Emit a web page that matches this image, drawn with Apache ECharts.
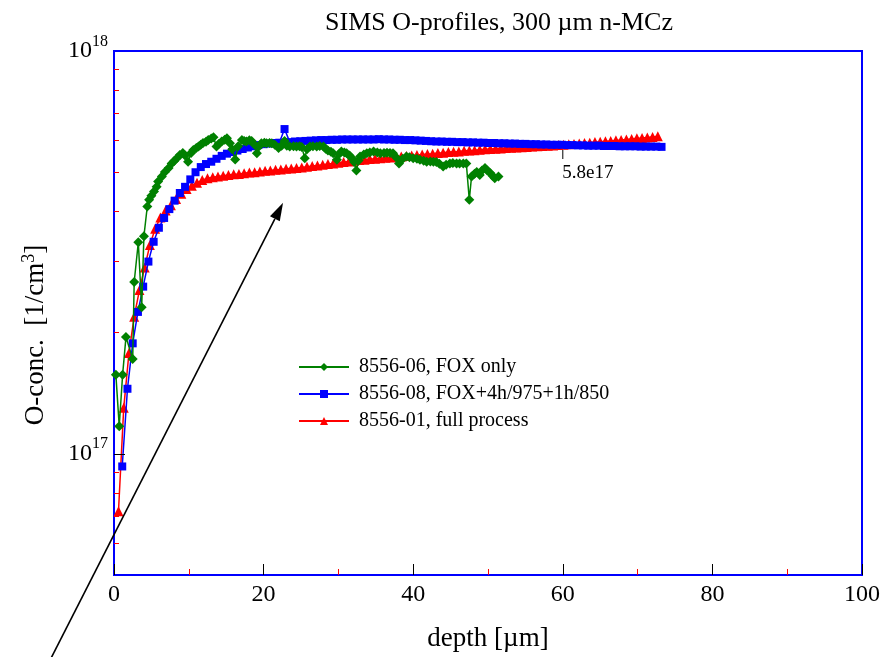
<!DOCTYPE html>
<html><head><meta charset="utf-8">
<script src="https://cdn.jsdelivr.net/npm/echarts@6/dist/echarts.min.js"></script>
<style>html,body{margin:0;padding:0;background:#fff}#c{width:894px;height:657px}</style>
</head><body><div id="c"></div>
<script>
const UNIT = 1e17;
const seriesNames = ['8556-06, FOX only', '8556-08, FOX+4h/975+1h/850', '8556-01, full process'];
const xTicks = [0, 20, 40, 60, 80, 100];
const yLabelTicks = [1e17, 0.9999999e18];
const yMinorTicks = [6e16, 7e16, 8e16, 9e16, 2e17, 3e17, 4e17, 5e17, 6e17, 7e17, 8e17, 9e17];

const greenDepth = [0.25,0.7,1.15,1.6,2.5,2.7,3.25,3.7,4.0,4.45,4.7,5.0,5.35,5.7,5.9,6.4,6.8,7.3,7.7,8.05,8.4,8.8,9.2,9.5,9.9,10.3,10.6,11.0,11.3,11.6,11.9,12.3,12.6,13.0,13.3,13.7,14.0,14.4,14.8,15.1,15.5,15.8,16.2,16.6,17.1,17.4,17.7,18.1,18.4,18.8,19.1,19.4,19.7,20.1,20.4,20.8,21.1,21.5,22.0,22.4,22.8,23.1,23.5,24.0,24.4,24.8,25.1,25.5,25.8,26.2,26.6,27.1,27.5,28.0,28.3,28.6,29.0,29.3,29.8,30.1,30.4,30.8,31.1,31.5,31.8,32.1,32.4,32.7,32.9,33.4,33.8,34.2,34.7,35.2,35.6,36.1,36.5,36.9,37.3,37.7,38.1,38.6,39.1,39.5,40.0,40.5,40.9,41.4,41.8,42.3,42.7,43.1,43.5,44.0,44.4,44.9,45.3,45.8,46.2,46.7,47.1,47.5,47.8,48.2,48.5,48.9,49.2,49.6,49.9,50.3,50.6,50.9,51.4];
const greenConc = [1.57,1.17,1.57,1.95,1.72,2.67,3.35,2.31,3.47,4.11,4.27,4.37,4.48,4.60,4.74,4.88,5.01,5.12,5.26,5.33,5.42,5.52,5.58,5.50,5.31,5.58,5.68,5.74,5.79,5.85,5.91,5.95,6.01,6.06,6.11,5.79,5.88,5.96,6.02,6.07,5.90,5.70,5.38,5.80,6.01,5.98,5.96,6.00,5.98,5.85,5.57,5.80,5.90,5.92,5.90,5.91,5.90,5.85,5.74,5.82,5.98,5.82,5.79,5.80,5.79,5.80,5.78,5.42,5.70,5.79,5.80,5.79,5.81,5.79,5.72,5.66,5.62,5.57,5.37,5.55,5.63,5.60,5.57,5.50,5.42,5.30,5.05,5.35,5.47,5.53,5.57,5.60,5.63,5.60,5.57,5.58,5.59,5.58,5.57,5.45,5.26,5.40,5.47,5.45,5.42,5.40,5.37,5.34,5.31,5.32,5.31,5.30,5.25,5.17,5.22,5.26,5.27,5.26,5.26,5.26,5.26,4.27,4.88,4.96,5.01,4.92,5.05,5.12,5.05,4.98,4.90,4.83,4.88];

const blueDepth = [1.1,1.8,2.5,3.2,3.9,4.6,5.3,6.0,6.7,7.4,8.1,8.8,9.5,10.2,10.9,11.6,12.3,13.0,13.7,14.4,15.1,15.8,16.5,17.2,17.9,18.6,19.3,20.0,20.7,21.4,22.1,22.8,23.5,24.2,24.9,25.6,26.3,27.0,27.7,28.4,29.1,29.8,30.5,31.2,31.9,32.6,33.3,34.0,34.7,35.4,36.1,36.8,37.5,38.2,38.9,39.6,40.3,41.0,41.7,42.4,43.1,43.8,44.5,45.2,45.9,46.6,47.3,48.0,48.7,49.4,50.1,50.8,51.5,52.2,52.9,53.6,54.3,55.0,55.7,56.4,57.1,57.8,58.5,59.2,59.9,60.6,61.3,62.0,62.7,63.4,64.1,64.8,65.5,66.2,66.9,67.6,68.3,69.0,69.7,70.4,71.1,71.8,72.5,73.2];
const blueConc = [0.93,1.45,1.88,2.25,2.60,3.00,3.36,3.64,3.85,4.05,4.25,4.44,4.60,4.80,5.00,5.15,5.24,5.31,5.40,5.49,5.56,5.61,5.66,5.71,5.76,5.80,5.84,5.87,5.89,5.91,5.92,6.40,5.94,5.96,5.97,5.98,5.99,6.00,6.01,6.01,6.02,6.02,6.03,6.03,6.03,6.03,6.03,6.03,6.03,6.04,6.03,6.03,6.02,6.02,6.01,6.01,6.00,5.99,5.98,5.97,5.96,5.96,5.95,5.95,5.94,5.94,5.93,5.93,5.92,5.92,5.91,5.91,5.90,5.90,5.89,5.89,5.88,5.88,5.87,5.87,5.86,5.86,5.85,5.85,5.85,5.84,5.84,5.83,5.83,5.82,5.82,5.82,5.81,5.81,5.81,5.80,5.80,5.80,5.80,5.79,5.79,5.79,5.79,5.78];

const redDepth = [0.6,1.3,2.0,2.7,3.4,4.1,4.8,5.5,6.2,6.9,7.6,8.3,9.0,9.7,10.4,11.1,11.8,12.5,13.2,13.9,14.6,15.3,16.0,16.7,17.4,18.1,18.8,19.5,20.2,20.9,21.6,22.3,23.0,23.7,24.4,25.1,25.8,26.5,27.2,27.9,28.6,29.3,30.0,30.7,31.4,32.1,32.8,33.5,34.2,34.9,35.6,36.3,37.0,37.7,38.4,39.1,39.8,40.5,41.2,41.9,42.6,43.3,44.0,44.7,45.4,46.1,46.8,47.5,48.2,48.9,49.6,50.3,51.0,51.7,52.4,53.1,53.8,54.5,55.2,55.9,56.6,57.3,58.0,58.7,59.4,60.1,60.8,61.5,62.2,62.9,63.6,64.3,65.0,65.7,66.4,67.1,67.8,68.5,69.2,69.9,70.6,71.3,72.0,72.7];
const redConc = [0.72,1.30,1.78,2.19,2.55,2.90,3.30,3.62,3.86,4.02,4.14,4.29,4.42,4.54,4.63,4.71,4.78,4.83,4.86,4.88,4.90,4.92,4.94,4.95,4.97,4.99,5.00,5.02,5.04,5.05,5.07,5.08,5.10,5.11,5.12,5.14,5.16,5.18,5.20,5.22,5.24,5.26,5.28,5.30,5.32,5.34,5.36,5.37,5.39,5.40,5.42,5.43,5.44,5.46,5.47,5.49,5.50,5.52,5.53,5.55,5.56,5.58,5.59,5.61,5.62,5.63,5.65,5.66,5.67,5.69,5.70,5.71,5.72,5.73,5.74,5.75,5.76,5.77,5.78,5.79,5.80,5.81,5.82,5.83,5.84,5.85,5.87,5.88,5.89,5.91,5.92,5.94,5.95,5.97,5.98,6.00,6.01,6.03,6.05,6.07,6.08,6.10,6.12,6.14];

// annotation: small tick with label "5.8e17" at depth 60
const annotDepth = 60;
const annotConc = 5.53;
const annotText = '5.8e17';
// arrow annotation (data coordinates of tail and tip)
const arrowTail = [-8.6, 0.306];
const arrowTip = [22.6, 4.2];

const FONT = 'Liberation Serif';
function pairs(d, v) { const n = Math.min(d.length, v.length); const out = []; for (let i = 0; i < n; i++) out.push([d[i], v[i] * UNIT]); return out; }

const chart = echarts.init(document.getElementById('c'), null, { renderer: 'canvas' });
const option = {
  animation: false,
  backgroundColor: '#fff',
  title: {
    text: 'SIMS O-profiles, 300 µm n-MCz', left: 494, top: 5, textAlign: 'center',
    textStyle: { fontFamily: FONT, fontSize: 26, fontWeight: 'normal', color: '#000' }
  },
  legend: {
    data: seriesNames, orient: 'vertical', left: 293, top: 352,
    itemWidth: 50, itemHeight: 10, itemGap: 7,
    textStyle: { fontFamily: FONT, fontSize: 20, color: '#000', lineHeight: 20, padding: [0, 0, 0, 5] }
  },
  grid: { left: 114, right: 32, top: 51, bottom: 82, show: true, borderColor: '#0000ff', borderWidth: 2, backgroundColor: 'transparent' },
  xAxis: [
    {
      type: 'value', min: xTicks[0], max: xTicks[xTicks.length - 1], interval: 20, z: 5,
      axisLine: { show: false }, splitLine: { show: false },
      axisTick: { inside: true, length: 11, lineStyle: { color: '#000', width: 1 } },
      axisLabel: { fontFamily: FONT, fontSize: 24, color: '#000', margin: 8 },
      name: 'depth [µm]', nameLocation: 'middle', nameGap: 50,
      nameTextStyle: { fontFamily: FONT, fontSize: 27, color: '#000' }
    },
    {
      type: 'value', min: 0, max: 100, interval: 10, position: 'bottom', z: 3,
      axisLine: { show: false }, splitLine: { show: false },
      axisTick: { inside: true, length: 6, lineStyle: { color: '#ff0000', width: 1 } },
      axisLabel: { show: false }
    }
  ],
  yAxis: [
    {
      type: 'log', logBase: 10, min: 5e16, max: 1e18, z: 5,
      axisLine: { show: false }, splitLine: { show: false }, minorTick: { show: false },
      axisTick: { inside: true, length: 11, customValues: [1e17], lineStyle: { color: '#000', width: 1 } },
      axisLabel: {
        customValues: yLabelTicks, margin: 6, showMaxLabel: true, showMinLabel: true,
        formatter: v => '{b|10}{s|' + Math.round(Math.log10(v)) + '}',
        rich: {
          b: { fontFamily: FONT, fontSize: 24, color: '#000' },
          s: { fontFamily: FONT, fontSize: 16, color: '#000', padding: [0, 0, 19, 0] }
        }
      },
      name: 'O-conc.  [1/cm{s|3}]', nameLocation: 'middle', nameGap: 62, nameRotate: 90,
      nameTextStyle: {
        fontFamily: FONT, fontSize: 27, color: '#000', padding: [0, 44, 0, 0],
        rich: { s: { fontFamily: FONT, fontSize: 18, color: '#000', padding: [0, 0, 14, 0] } }
      }
    },
    {
      type: 'log', logBase: 10, min: 5e16, max: 1e18, position: 'left', z: 3,
      axisLine: { show: false }, splitLine: { show: false }, minorTick: { show: false },
      axisTick: { inside: true, length: 5, customValues: yMinorTicks, lineStyle: { color: '#ff0000', width: 1 } },
      axisLabel: { show: false }
    }
  ],
  series: [
    {
      name: seriesNames[2], type: 'line', data: pairs(redDepth, redConc), xAxisIndex: 0, yAxisIndex: 0,
      symbol: 'triangle', symbolSize: 10, showAllSymbol: true, color: '#ff0000',
      lineStyle: { width: 1.5, color: '#ff0000' }, itemStyle: { color: '#ff0000' }, z: 2,
      markPoint: {
        symbol: 'rect', symbolSize: [1, 9], itemStyle: { color: '#000' },
        data: [{ coord: [annotDepth, annotConc * UNIT] }],
        label: { show: true, formatter: annotText, position: [0, 13], align: 'left', verticalAlign: 'top', fontFamily: FONT, fontSize: 19, color: '#000' }
      }
    },
    {
      name: seriesNames[1], type: 'line', data: pairs(blueDepth, blueConc), xAxisIndex: 0, yAxisIndex: 0,
      symbol: 'rect', symbolSize: 8, showAllSymbol: true, color: '#0000ff',
      lineStyle: { width: 1.5, color: '#0000ff' }, itemStyle: { color: '#0000ff' }, z: 3
    },
    {
      name: seriesNames[0], type: 'line', data: pairs(greenDepth, greenConc), xAxisIndex: 0, yAxisIndex: 0,
      symbol: 'diamond', symbolSize: 10, showAllSymbol: true, color: '#008000',
      lineStyle: { width: 1.5, color: '#008000' }, itemStyle: { color: '#008000' }, z: 4
    }
  ]
};
chart.setOption(option);

function drawArrow() {
  const tail = chart.convertToPixel({ xAxisIndex: 0, yAxisIndex: 0 }, [arrowTail[0], arrowTail[1] * UNIT]);
  const tip = chart.convertToPixel({ xAxisIndex: 0, yAxisIndex: 0 }, [arrowTip[0], arrowTip[1] * UNIT]);
  const dx = tip[0] - tail[0], dy = tip[1] - tail[1];
  const len = Math.sqrt(dx * dx + dy * dy);
  const ux = dx / len, uy = dy / len;
  const headLen = 18, headHalf = 5.5;
  const bx = tip[0] - ux * headLen, by = tip[1] - uy * headLen;
  const px = -uy, py = ux;
  chart.setOption({
    graphic: [
      { type: 'line', z: 100, shape: { x1: tail[0], y1: tail[1], x2: bx, y2: by }, style: { stroke: '#000', lineWidth: 1.6 } },
      { type: 'polygon', z: 100, shape: { points: [[tip[0], tip[1]], [bx + px * headHalf, by + py * headHalf], [bx - px * headHalf, by - py * headHalf]] }, style: { fill: '#000' } }
    ]
  });
}
drawArrow();
</script>
</body></html>
